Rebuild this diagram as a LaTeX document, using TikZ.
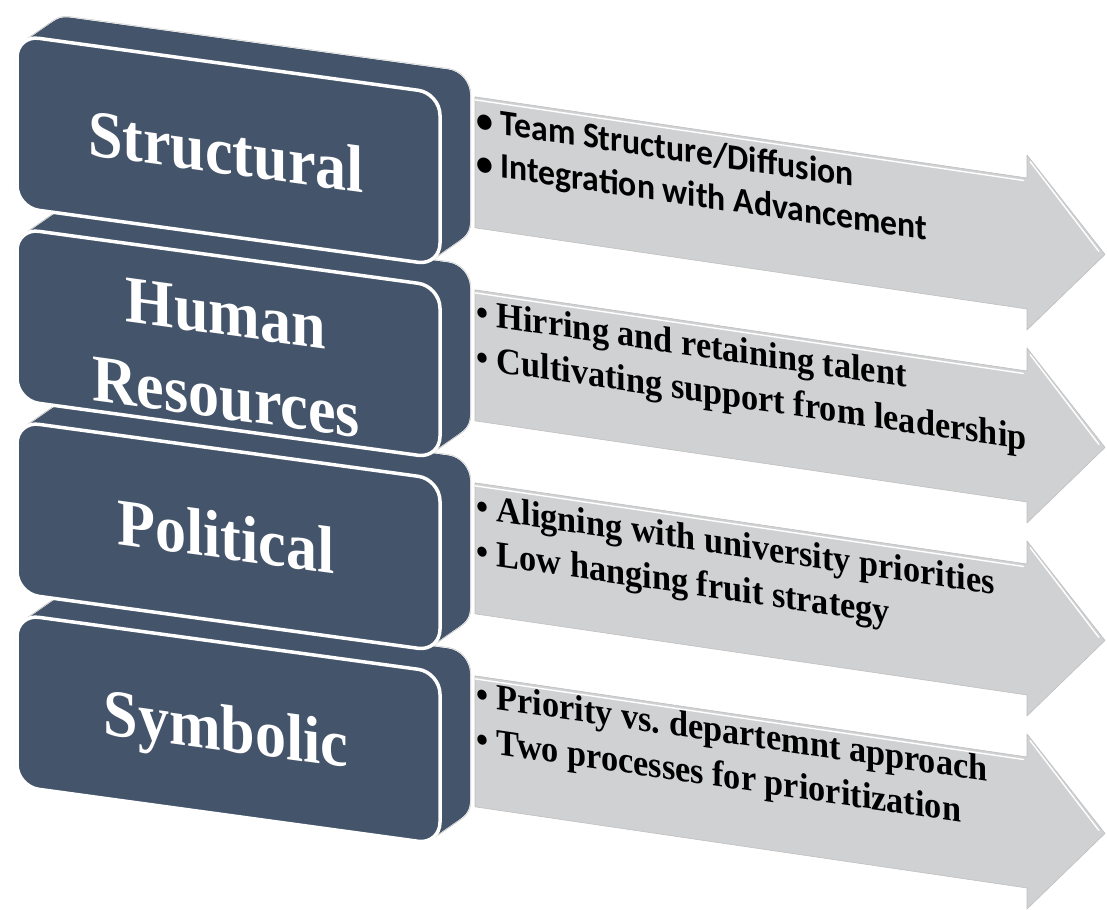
\documentclass[tikz,border=0pt]{standalone}
\usepackage{fontspec}
\setmainfont{Liberation Serif}
\newfontfamily\timesnarrow[FakeStretch=0.93]{Liberation Serif}
\newfontfamily\calibrinarrow[FakeStretch=0.94]{Carlito}
\usetikzlibrary{calc}
\definecolor{slate}{RGB}{68,84,106}
\definecolor{arrowgray}{RGB}{208,209,211}
\tikzstyle{rim} = [draw=black!22, double=white, double distance=1.4bp,
    line width=0.5bp, rounded corners=22bp]
\tikzstyle{body} = [fill=slate, rounded corners=22bp]
\tikzstyle{front} = [draw=white, line width=3.5bp, fill=slate,
    rounded corners=22bp]
\tikzstyle{flowarrow} = [fill=arrowgray, draw=black!25, line width=0.6bp,
    line join=round]
\tikzstyle{shine} = [draw=white, line width=1.4bp]
\tikzstyle{boxlabel} = [text=white, inner sep=0, transform shape, align=center,
    font=\timesnarrow\bfseries\fontsize{67}{84}\selectfont]
\tikzstyle{bulletlist} = [text=black, inner sep=0, transform shape, align=left,
    font=\timesnarrow\bfseries\fontsize{37}{45}\selectfont]

\begin{document}
\begin{tikzpicture}[x=1bp, y=-1bp]

\useasboundingbox (0,0) rectangle (1107,910);


%%% arrows
\begin{scope}[yslant=-0.147]
\foreach \o in {0,193,386,579}{
  \draw[flowarrow] (475,27+\o) -- (1027,27+\o) -- (1027,4+\o) -- (1105,92+\o)
      -- (1027,179+\o) -- (1027,158+\o) -- (475,158+\o) -- cycle;
  \draw[shine] (475,30+\o) -- (1024,30+\o);
  \draw[shine] (1030,10+\o) -- (1099,90+\o);
}

% base anchor = baseline of the last line
\node[bulletlist, anchor=base west, font=\calibrinarrow\bfseries\fontsize{36}{43}\selectfont]
    (structuraltext) at (476,104) {• Team Structure/Diffusion\\• Integration with Advancement};
\node[bulletlist, anchor=base west] (humantext) at (476,299)
    {• Hirring and retaining talent\\• Cultivating support from leadership};
\node[bulletlist, anchor=base west] (politicaltext) at (476,493)
    {• Aligning with university priorities\\• Low hanging fruit strategy};
\node[bulletlist, anchor=base west] (symbolictext) at (476,681)
    {• Priority vs.\ departemnt approach\\• Two processes for prioritization};
\end{scope}


%%% boxes
\begin{scope}[yslant=-0.137]
\foreach \o in {579,386,193,0}{
  \foreach \t in {0,...,20}
    \draw[rim] ({17+1.5*\t},{33+\o-1.25*\t}) rectangle ({440+1.5*\t},{205+\o-1.25*\t});
  \foreach \t in {0,...,20}
    \fill[body] ({17+1.5*\t},{33+\o-1.25*\t}) rectangle ({440+1.5*\t},{205+\o-1.25*\t});
  \draw[front] (17,33+\o) rectangle (440,205+\o);
}

\node[boxlabel, anchor=base] (structural) at (226,143) {Structural};
\node[boxlabel, anchor=base] (human) at (226,388) {Human\\Resources};
\node[boxlabel, anchor=base] (political) at (226,528) {Political};
\node[boxlabel, anchor=base] (symbolic) at (226,720) {Symbolic};
\end{scope}


\end{tikzpicture}
\end{document}
